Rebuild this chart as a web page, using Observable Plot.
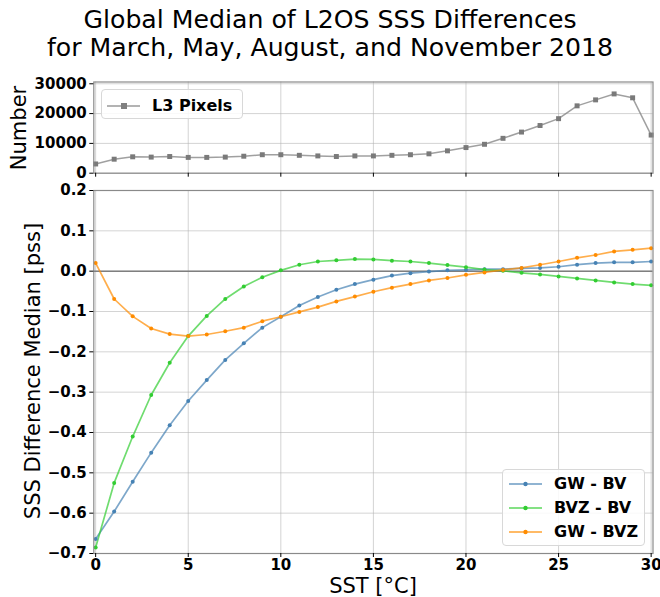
<!DOCTYPE html>
<html>
<head>
<meta charset="utf-8">
<script src="https://cdn.jsdelivr.net/npm/d3@7"></script>
<script src="https://cdn.jsdelivr.net/npm/@observablehq/plot@0.6"></script>
<style>
  html, body { margin: 0; padding: 0; background: #fff; }
  #chart { position: relative; width: 660px; height: 597px; background: #fff; font-family: "DejaVu Sans", sans-serif; overflow: hidden; }
  .abs { position: absolute; }
  .title { left: 0; width: 660px; text-align: center; font-size: 25.2px; line-height: 28px; color: #000; }
  .ylab { white-space: nowrap; font-size: 21px; color: #000; transform: translate(-50%, -50%) rotate(-90deg); }
  .xlab { white-space: nowrap; font-size: 21px; line-height: 18px; color: #000; transform: translate(-50%, -50%); }
  .legend { background: rgba(255,255,255,0.85); border: 1px solid #d8d8d8; border-radius: 4px; box-sizing: border-box; }
  .lrow { position: absolute; display: flex; align-items: center; font-weight: bold; font-size: 16px; white-space: nowrap; }
  .lrow svg { margin-right: 12px; }
</style>
</head>
<body>
<div id="chart"></div>
<script>
// ---- data ----
const sst = [0,1,2,3,4,5,6,7,8,9,10,11,12,13,14,15,16,17,18,19,20,21,22,23,24,25,26,27,28,29,30];
const l3Pixels = [3100,4700,5500,5400,5600,5300,5300,5400,5700,6200,6200,6000,5800,5600,5800,5800,6000,6200,6500,7500,8600,9700,11700,13800,16000,18300,22600,24600,26600,25300,12800];
const gwBv = [-0.664,-0.596,-0.522,-0.450,-0.382,-0.322,-0.270,-0.220,-0.179,-0.140,-0.113,-0.085,-0.064,-0.046,-0.032,-0.021,-0.011,-0.005,-0.001,0.002,0.003,0.005,0.005,0.007,0.008,0.011,0.016,0.020,0.022,0.022,0.024];
const bvzBv = [-0.685,-0.525,-0.410,-0.307,-0.227,-0.161,-0.111,-0.069,-0.038,-0.015,0.002,0.016,0.024,0.027,0.030,0.029,0.026,0.024,0.020,0.015,0.010,0.004,0.001,-0.004,-0.008,-0.013,-0.018,-0.023,-0.028,-0.032,-0.035];
const gwBvz = [0.020,-0.069,-0.112,-0.142,-0.156,-0.161,-0.157,-0.149,-0.140,-0.124,-0.113,-0.101,-0.089,-0.075,-0.063,-0.051,-0.041,-0.032,-0.023,-0.017,-0.009,-0.003,0.003,0.008,0.016,0.024,0.033,0.040,0.049,0.053,0.057];
const seriesNames = ["GW - BV", "BVZ - BV", "GW - BVZ"];
const seriesColors = ["#4682b4", "#32cd32", "#ff8c00"];
const xTicks = [0,5,10,15,20,25,30];
const topYTicks = [0,10000,20000,30000];
const botYTicks = [-0.7,-0.6,-0.5,-0.4,-0.3,-0.2,-0.1,0.0,0.1,0.2];
const titleLines = ["Global Median of L2OS SSS Differences", "for March, May, August, and November 2018"];

// ---- tables ----
const pixRows = sst.map((x, i) => ({x, y: l3Pixels[i]}));
const diffSeries = [gwBv, bvzBv, gwBvz];
const diffRows = diffSeries.flatMap((arr, k) => sst.map((x, i) => ({x, y: arr[i], s: seriesNames[k]})));

const root = document.getElementById("chart");
function add(html, cls, style) {
  const d = document.createElement("div");
  d.className = "abs " + cls;
  Object.assign(d.style, style);
  d.innerHTML = html;
  root.appendChild(d);
  return d;
}

// title
add(titleLines.join("<br>"), "title", {top: "6px"});

const ML = 93.3, MR = 7.5;
const xDomain = [-0.1, 30.1];
const gridStyle = {stroke: "#b0b0b0", strokeOpacity: 0.55, strokeWidth: 1};

// ---- top panel ----
const topPlot = Plot.plot({
  width: 660, height: 115,
  marginLeft: ML, marginRight: MR, marginTop: 11.5, marginBottom: 12.3,
  style: {fontFamily: "DejaVu Sans", fontSize: "15px", color: "#000", background: "transparent", overflow: "visible"},
  x: {domain: xDomain},
  y: {domain: [0, 30600]},
  marks: [
    Plot.gridX(xTicks, gridStyle),
    Plot.gridY(topYTicks, gridStyle),
    Plot.line(pixRows, {x: "x", y: "y", stroke: "#808080", strokeOpacity: 0.75, strokeWidth: 1.5}),
    Plot.dot(pixRows, {x: "x", y: "y", symbol: "square", r: 2.8, fill: "#7a7a7a"}),
    Plot.frame({stroke: "#8a8a8a", strokeWidth: 1.2}),
    Plot.axisX({ticks: xTicks, tickFormat: () => "", tickSize: 4, label: null}),
    Plot.axisY({ticks: topYTicks, tickFormat: d => String(d), tickSize: 4, tickPadding: 3, fontWeight: "bold", fontSize: 15, label: null})
  ]
});
const topWrap = add("", "", {left: "0px", top: "70px"});
topWrap.appendChild(topPlot);

// ---- bottom panel ----
const color = {domain: seriesNames, range: seriesColors};
const botPlot = Plot.plot({
  width: 660, height: 417,
  marginLeft: ML, marginRight: MR, marginTop: 10, marginBottom: 44,
  style: {fontFamily: "DejaVu Sans", fontSize: "15px", color: "#000", background: "transparent", overflow: "visible"},
  x: {domain: xDomain},
  y: {domain: [-0.7, 0.2]},
  color,
  marks: [
    Plot.gridX(xTicks, gridStyle),
    Plot.gridY(botYTicks, gridStyle),
    Plot.ruleY([0], {stroke: "#7f7f7f", strokeWidth: 1.5}),
    Plot.line(diffRows, {x: "x", y: "y", z: "s", stroke: "s", strokeOpacity: 0.7, strokeWidth: 1.7}),
    Plot.dot(diffRows, {x: "x", y: "y", fill: "s", r: 2}),
    Plot.frame({stroke: "#8a8a8a", strokeWidth: 1.2}),
    Plot.axisX({ticks: xTicks, tickFormat: d => String(d), tickSize: 4, tickPadding: 1.5, fontWeight: "bold", fontSize: 15, label: null}),
    Plot.axisY({ticks: botYTicks, tickFormat: d3.format(".1f"), tickSize: 4, tickPadding: 3, fontWeight: "bold", fontSize: 15, label: null})
  ]
});
const botWrap = add("", "", {left: "0px", top: "180px"});
botWrap.appendChild(botPlot);

// axis labels
add("Number", "ylab", {left: "19px", top: "128px"});
add("SST [°C]", "xlab", {left: "373px", top: "586px"});
add("SSS Difference Median [pss]", "ylab", {left: "33px", top: "371px"});

// legends
function swatch(col, square) {
  const mk = square
    ? `<rect x="14" y="4" width="6" height="6" fill="${col}"/>`
    : `<circle cx="16.5" cy="7" r="2.2" fill="${col}"/>`;
  return `<svg width="33" height="14" viewBox="0 0 33 14"><line x1="0" x2="33" y1="7" y2="7" stroke="${col}" stroke-opacity="0.6" stroke-width="1.8"/>${mk}</svg>`;
}
const topLeg = add("", "legend", {left: "101px", top: "89px", width: "142px", height: "30px"});
const tr = document.createElement("div");
tr.className = "lrow";
tr.style.left = "5px"; tr.style.top = "6px";
tr.innerHTML = swatch("#808080", true) + "<span>L3 Pixels</span>";
topLeg.appendChild(tr);

const botLeg = add("", "legend", {left: "502px", top: "469px", width: "143px", height: "77px"});
seriesNames.forEach((n, i) => {
  const r = document.createElement("div");
  r.className = "lrow";
  r.style.left = "6px"; r.style.top = (4 + i * 24) + "px";
  r.innerHTML = swatch(seriesColors[i], false) + `<span>${n}</span>`;
  botLeg.appendChild(r);
});
</script>
</body>
</html>
